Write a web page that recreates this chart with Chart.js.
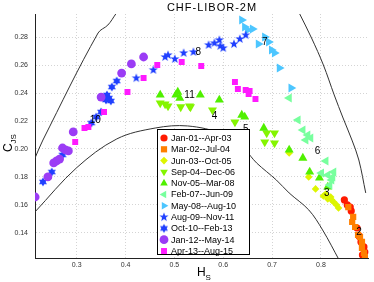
<!DOCTYPE html>
<html>
<head>
<meta charset="utf-8">
<script src="https://cdn.jsdelivr.net/npm/chart.js@4.4.0/dist/chart.umd.min.js"></script>
<style>
  html, body { margin: 0; padding: 0; background: #fff; }
  #wrap { width: 374px; height: 282px; }
</style>
</head>
<body>
<div id="wrap"><canvas id="graph" width="374" height="282"></canvas></div>
<script>
// periods (legend) and values, [H_S, C_JS]
const periods = ["Jan-01--Apr-03", "Mar-02--Jul-04", "Jun-03--Oct-05", "Sep-04--Dec-06",
  "Nov-05--Mar-08", "Feb-07--Jun-09", "May-08--Aug-10", "Aug-09--Nov-11",
  "Oct-10--Feb-13", "Jan-12--May-14", "Apr-13--Aug-15"];

const s1 = [[0.848,0.1635],[0.854,0.1599],[0.862,0.1556],[0.860,0.1584],[0.874,0.1434],[0.878,0.1377],
  [0.882,0.1334],[0.888,0.1298],[0.890,0.1262],[0.885,0.1241]];
const s2 = [[0.856,0.1584],[0.864,0.1477],[0.870,0.1441],[0.876,0.1384],[0.884,0.1334],[0.884,0.1291],
  [0.890,0.1227],[0.866,0.1513],[0.880,0.1370],[0.888,0.1255]];
const s3 = [[0.735,0.1971],[0.775,0.1800],[0.789,0.1714],[0.805,0.1663],[0.814,0.1642],[0.820,0.1656],
  [0.826,0.1620],[0.832,0.1599],[0.836,0.1577],[0.822,0.1635],[0.810,0.1678]];
const s4 = [[0.471,0.2329],[0.481,0.2322],[0.487,0.2308],[0.513,0.2301],[0.531,0.2308],[0.533,0.2301],
  [0.578,0.2279],[0.624,0.2193],[0.689,0.2114],[0.705,0.2114],[0.685,0.2050],[0.705,0.2043]];
const s5 = [[0.471,0.2387],[0.503,0.2387],[0.511,0.2365],[0.553,0.2387],[0.592,0.2351],[0.638,0.2243],
  [0.644,0.2229],[0.683,0.2150],[0.735,0.1993],[0.763,0.1935],[0.777,0.1835],[0.797,0.1792],
  [0.814,0.1728],[0.507,0.2408]];
const s6 = [[0.735,0.2365],[0.753,0.2208],[0.763,0.2136],[0.773,0.2100],[0.779,0.2078],[0.769,0.2064],
  [0.810,0.1914],[0.801,0.1828],[0.814,0.1814],[0.822,0.1778],[0.826,0.1835],[0.818,0.1742],[0.824,0.1800]];
const s7 = [[0.638,0.2924],[0.644,0.2874],[0.650,0.2852],[0.660,0.2859],[0.672,0.2752],[0.685,0.2802],
  [0.693,0.2766],[0.699,0.2709],[0.705,0.2688],[0.715,0.2580],[0.739,0.2437]];
const s8 = [[0.422,0.2508],[0.457,0.2566],[0.481,0.2659],[0.487,0.2673],[0.501,0.2645],[0.519,0.2688],
  [0.539,0.2695],[0.570,0.2745],[0.582,0.2759],[0.592,0.2781],[0.594,0.2738],[0.600,0.2723],
  [0.622,0.2752],[0.634,0.2788],[0.646,0.2816]];
const s9 = [[0.231,0.1764],[0.249,0.1835],[0.271,0.1957],[0.330,0.2186],[0.340,0.2229],[0.350,0.2265],
  [0.362,0.2387],[0.366,0.2365],[0.370,0.2344],[0.372,0.2444],[0.382,0.2487],[0.360,0.2351]];
const s10 = [[0.215,0.1656],[0.241,0.1800],[0.253,0.1900],[0.259,0.1914],[0.265,0.1928],[0.271,0.2007],
  [0.277,0.1993],[0.283,0.1986],[0.293,0.2122],[0.350,0.2372],[0.392,0.2544],[0.412,0.2609],[0.437,0.2659]];
const s11 = [[0.297,0.2050],[0.316,0.2150],[0.324,0.2157],[0.356,0.2265],[0.404,0.2408],[0.437,0.2508],
  [0.465,0.2602],[0.515,0.2623],[0.555,0.2594],[0.624,0.2480],[0.630,0.2430],[0.646,0.2423],
  [0.654,0.2415],[0.652,0.2394],[0.666,0.2358]];
const series = [s1, s2, s3, s4, s5, s6, s7, s8, s9, s10, s11];

// black boundary curves
const curveLeft = [[0.2147,0.1935],[0.2309,0.2064],[0.3438,0.2831],[0.3639,0.2888],[0.3800,0.2967]];
const curveLow = [[0.2147,0.1549],[0.2994,0.1864],[0.3821,0.2072],[0.4607,0.2150],[0.5272,0.2165],
  [0.5978,0.2107],[0.6442,0.1993],[0.6683,0.1900],[0.7087,0.1778],[0.7349,0.1685],[0.7752,0.1563],
  [0.8034,0.1420],[0.8380,0.1200]];
const curveRight = [[0.7566,0.2967],[0.7808,0.2795],[0.8050,0.2602],[0.8272,0.2387],[0.8453,0.2222],
  [0.8635,0.2064],[0.8776,0.1921],[0.8917,0.1685]];

// number tags
const tagText = ["2", "3", "4", "5", "6", "7", "8", "10", "11"];
const tagX = [0.878, 0.812, 0.582, 0.646, 0.793, 0.685, 0.549, 0.338, 0.531];
const tagY = [0.1406, 0.1685, 0.2236, 0.2143, 0.1986, 0.2766, 0.2695, 0.2208, 0.2387];

const xTicks = [0.3, 0.4, 0.5, 0.6, 0.7, 0.8];
const yTicks = [0.14, 0.16, 0.18, 0.2, 0.22, 0.24, 0.26, 0.28];

const colours = ['#ff1a00', '#ff7f00', '#ddf500', '#84f500', '#50f000', '#78ff9e', '#4dc6ff',
  '#2040ff', '#2040ff', '#9b3cf5', '#ff1aff'];
const FONT = '"Liberation Sans", Arial, sans-serif';

function starImage(n, colour, outer, inner) {
  const c = document.createElement('canvas');
  const s = Math.ceil(outer * 2 + 2);
  c.width = s; c.height = s;
  const g = c.getContext('2d');
  g.fillStyle = colour;
  g.beginPath();
  for (let i = 0; i < n * 2; i++) {
    const r = i % 2 ? inner : outer;
    const a = -Math.PI / 2 + i * Math.PI / n;
    const px = s / 2 + r * Math.cos(a), py = s / 2 + r * Math.sin(a);
    if (i === 0) g.moveTo(px, py); else g.lineTo(px, py);
  }
  g.closePath();
  g.fill();
  return c;
}

const shapes = ['circle', 'rect', 'rectRot', 'triangle', 'triangle', 'triangle', 'triangle',
  starImage(5, colours[7], 4.8, 2.0), starImage(6, colours[8], 4.6, 2.6), 'circle', 'rect'];
const turns = [0, 0, 0, 180, 0, 270, 90, 0, 0, 0, 0];
const sizes = [3.6, 4.4, 3.8, 5.2, 5.2, 5.2, 5.2, 5, 5, 4.4, 4.2];

const pts = arr => arr.map(p => ({ x: p[0], y: p[1] }));

const datasets = series.map((s, i) => ({
  label: periods[i],
  data: pts(s),
  backgroundColor: colours[i],
  borderColor: colours[i],
  pointStyle: shapes[i],
  pointRotation: turns[i],
  pointRadius: sizes[i],
  pointBorderWidth: 0,
  showLine: false,
  order: 100 - i
}));
[curveLeft, curveLow, curveRight].forEach(c => datasets.push({
  label: '',
  data: pts(c),
  showLine: true,
  borderColor: '#333',
  borderWidth: 1,
  pointRadius: 0,
  tension: 0.35,
  order: 200
}));

const decorations = {
  id: 'decorations',
  afterDatasetsDraw(chart) {
    const { ctx, scales: { x, y } } = chart;
    ctx.save();
    ctx.fillStyle = '#000';
    ctx.font = '10px ' + FONT;
    ctx.textAlign = 'center';
    ctx.textBaseline = 'middle';
    tagText.forEach((t, i) => ctx.fillText(t, x.getPixelForValue(tagX[i]), y.getPixelForValue(tagY[i])));

    // legend box
    const bx = 157.5, by = 129.5, bw = 92, bh = 125;
    ctx.fillStyle = '#fff';
    ctx.fillRect(bx, by, bw, bh);
    ctx.strokeStyle = '#000';
    ctx.lineWidth = 1;
    ctx.strokeRect(bx, by, bw, bh);
    ctx.font = '9px ' + FONT;
    ctx.textAlign = 'left';
    periods.forEach((p, i) => {
      const ly = 138 + i * 11.3;
      ctx.fillStyle = colours[i];
      Chart.helpers.drawPoint(ctx, {
        pointStyle: shapes[i], rotation: turns[i], radius: Math.min(sizes[i], 4.4), borderWidth: 0
      }, 164, ly);
      ctx.fillStyle = '#000';
      ctx.fillText(p, 171, ly + 0.5);
    });
    ctx.restore();
  },
  afterDraw(chart) {
    const { ctx } = chart;
    ctx.save();
    ctx.fillStyle = '#000';
    ctx.textBaseline = 'alphabetic';
    ctx.font = '11px ' + FONT;
    ctx.textAlign = 'center';
    ctx.letterSpacing = '1px';
    ctx.fillText('CHF-LIBOR-2M', 212, 11);
    ctx.letterSpacing = '0px';
    // x label
    ctx.font = '12px ' + FONT;
    ctx.textAlign = 'left';
    ctx.fillText('H', 197, 276);
    ctx.font = '8px ' + FONT;
    ctx.fillText('S', 205.5, 280);
    // y label
    ctx.translate(12, 152);
    ctx.rotate(-Math.PI / 2);
    ctx.font = '12px ' + FONT;
    ctx.fillText('C', 0, 0);
    ctx.font = '8px ' + FONT;
    ctx.fillText('JS', 8.5, 3.5);
    ctx.restore();
  }
};

new Chart(document.getElementById('graph').getContext('2d'), {
  type: 'scatter',
  data: { datasets: datasets },
  plugins: [decorations],
  options: {
    responsive: false,
    animation: false,
    layout: { padding: { top: 14, right: 0, left: 0, bottom: 0 } },
    plugins: { legend: { display: false }, tooltip: { enabled: false }, title: { display: false } },
    scales: {
      x: {
        type: 'linear', min: 0.2147, max: 0.898,
        afterBuildTicks: s => { s.ticks = xTicks.map(v => ({ value: v })); },
        afterFit: s => { s.height = 24; },
        ticks: { font: { size: 7, family: FONT }, color: '#333', padding: 3, callback: v => v.toFixed(1) },
        grid: { color: '#d4d4d4', lineWidth: 1, drawTicks: false },
        border: { display: true, color: '#222', width: 1, dash: [1, 2] }
      },
      y: {
        type: 'linear', min: 0.1219, max: 0.2967,
        afterBuildTicks: s => { s.ticks = yTicks.map(v => ({ value: v })); },
        afterFit: s => { s.width = 35; },
        ticks: { font: { size: 7, family: FONT }, color: '#333', padding: 7, callback: v => v.toFixed(2) },
        grid: { color: '#d4d4d4', lineWidth: 1, drawTicks: false },
        border: { display: true, color: '#222', width: 1, dash: [1, 2] }
      }
    }
  }
});
</script>
</body>
</html>
